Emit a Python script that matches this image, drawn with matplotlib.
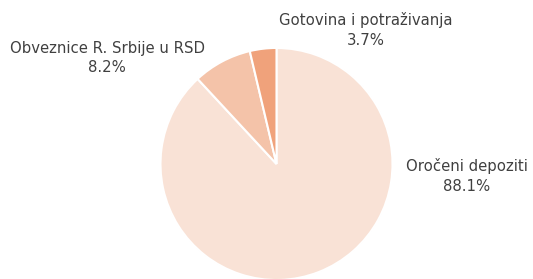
import matplotlib
matplotlib.use('Agg')
import matplotlib.pyplot as plt

labels = ['Oročeni depoziti', 'Obveznice R. Srbije u RSD', 'Gotovina i potraživanja']
values = [88.1, 8.2, 3.7]
colors = ['#F9E2D6', '#F4C3A9', '#F0A27B']
explode = [0, 0.05, 0.05]

# label positions in pixels (x, y from top)
label_pos = [(467, 176), (107, 58), (366, 30)]

fig = plt.figure(figsize=(5.33, 2.79), dpi=100)
ax = fig.add_axes([0, 0, 1, 1])

ax.pie(values, colors=colors, explode=explode, startangle=90, counterclock=False,
       center=(276.5, 279 - 164), radius=116,
       wedgeprops=dict(edgecolor='white', linewidth=1.5))

# pie resets the limits, so set them afterwards
ax.set_xlim(0, 533)
ax.set_ylim(0, 279)
ax.set_aspect('equal')
ax.axis('off')

for lab, v, (x, y) in zip(labels, values, label_pos):
    ax.text(x, 279 - y, '%s\n%.1f%%' % (lab, v), ha='center', va='center',
            fontsize=10.7, color='#404040', family='DejaVu Sans', linespacing=1.4)

plt.savefig('out.png', dpi=100)
